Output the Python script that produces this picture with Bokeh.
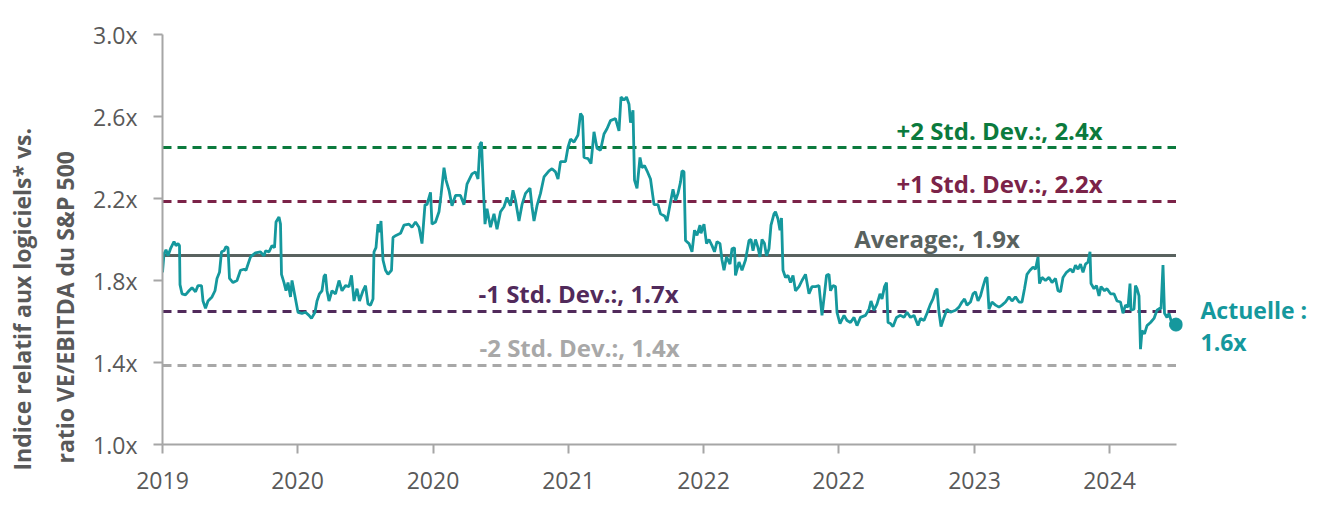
from bokeh.plotting import figure
from bokeh.models import FixedTicker, PrintfTickFormatter, Label, Range1d, LinearAxis, Title
from bokeh.embed import file_html
from bokeh.resources import INLINE

# ---- data (days since start of series, relative EV/EBITDA ratio) ----
days = [0, 3, 7, 11, 16, 23, 27, 31, 34, 35, 39, 46, 53, 59, 66, 71, 78, 81, 86, 91,
        99, 105, 109, 114, 118, 123, 127, 131, 134, 141, 149, 156, 163, 167, 176, 186, 196, 203, 206, 213,
        219, 224, 227, 233, 236, 238, 243, 247, 251, 256, 259, 266, 271, 279, 286, 293, 298, 305, 309, 314,
        319, 323, 326, 329, 333, 339, 346, 353, 359, 366, 373, 378, 383, 389, 394, 401, 406, 411, 416, 421,
        423, 427, 431, 434, 437, 441, 446, 451, 458, 461, 467, 476, 483, 493, 499, 506, 513, 519, 525, 529,
        536, 539, 546, 553, 557, 563, 567, 573, 579, 586, 596, 603, 609, 619, 626, 631, 635, 638, 641, 645,
        649, 656, 663, 669, 676, 683, 689, 696, 701, 706, 713, 719, 726, 735, 739, 743, 749, 756, 763, 773,
        779, 786, 791, 796, 806, 811, 816, 823, 831, 836, 840, 843, 851, 857, 863, 869, 876, 883, 889, 896,
        906, 913, 917, 923, 928, 933, 936, 941, 944, 949, 955, 959, 964, 969, 976, 983, 991, 996, 1004, 1009,
        1015, 1021, 1026, 1031, 1036, 1039, 1043, 1046, 1053, 1059, 1064, 1069, 1075, 1077, 1083, 1088, 1093, 1099, 1104, 1109,
        1115, 1119, 1123, 1128, 1135, 1139, 1144, 1146, 1153, 1159, 1166, 1173, 1177, 1181, 1186, 1191, 1195, 1199, 1204, 1208,
        1213, 1217, 1223, 1226, 1231, 1235, 1238, 1241, 1246, 1251, 1256, 1261, 1266, 1273, 1279, 1286, 1293, 1299, 1306, 1313,
        1319, 1324, 1328, 1333, 1336, 1341, 1346, 1349, 1355, 1363, 1369, 1376, 1383, 1389, 1396, 1406, 1413, 1417, 1423, 1429,
        1435, 1439, 1444, 1448, 1451, 1456, 1461, 1468, 1476, 1483, 1489, 1496, 1503, 1511, 1516, 1523, 1529, 1536, 1541, 1546,
        1549, 1553, 1557, 1563, 1569, 1576, 1586, 1593, 1599, 1604, 1609, 1616, 1621, 1626, 1631, 1636, 1641, 1646, 1649, 1653,
        1659, 1666, 1673, 1679, 1686, 1693, 1699, 1706, 1713, 1719, 1724, 1729, 1735, 1741, 1746, 1751, 1754, 1759, 1766, 1773,
        1779, 1786, 1791, 1796, 1801, 1808, 1816, 1821, 1826, 1831, 1836, 1841, 1846, 1851, 1855, 1857, 1863, 1868, 1873, 1877,
        1884, 1889, 1896, 1903, 1909, 1916, 1921, 1926, 1931, 1935, 1937, 1943, 1946, 1949, 1953, 1956, 1959, 1964, 1969, 1976,
        1983, 1989, 1995, 1997, 2001, 2004, 2009, 2013, 2017, 2023, 2027]

ratio = [1.84, 1.93, 1.95, 1.92, 1.955, 1.99, 1.97, 1.98, 1.97, 1.78, 1.735, 1.73, 1.75, 1.765, 1.745, 1.775, 1.775, 1.70, 1.665, 1.70,
         1.72, 1.75, 1.81, 1.84, 1.94, 1.945, 1.965, 1.96, 1.81, 1.79, 1.80, 1.85, 1.855, 1.85, 1.915, 1.935, 1.94, 1.92, 1.945, 1.94,
         1.97, 1.96, 2.085, 2.11, 2.075, 1.83, 1.79, 1.75, 1.79, 1.72, 1.80, 1.71, 1.645, 1.64, 1.645, 1.63, 1.615, 1.645, 1.70, 1.735,
         1.75, 1.82, 1.83, 1.75, 1.70, 1.75, 1.735, 1.80, 1.75, 1.775, 1.77, 1.825, 1.70, 1.76, 1.70, 1.75, 1.775, 1.685, 1.68, 1.71,
         1.94, 1.96, 2.075, 2.035, 2.09, 1.90, 1.85, 1.83, 1.85, 2.01, 2.02, 2.03, 2.07, 2.075, 2.06, 2.085, 2.06, 1.98, 2.17, 2.17,
         2.23, 2.075, 2.085, 2.135, 2.215, 2.35, 2.29, 2.24, 2.165, 2.215, 2.215, 2.17, 2.27, 2.32, 2.33, 2.295, 2.465, 2.475, 2.29, 2.075,
         2.15, 2.06, 2.125, 2.05, 2.135, 2.16, 2.205, 2.165, 2.24, 2.19, 2.09, 2.17, 2.225, 2.25, 2.16, 2.09, 2.165, 2.225, 2.305, 2.335,
         2.345, 2.33, 2.295, 2.38, 2.38, 2.45, 2.49, 2.475, 2.51, 2.615, 2.60, 2.40, 2.395, 2.37, 2.525, 2.445, 2.435, 2.515, 2.54, 2.58,
         2.59, 2.53, 2.695, 2.68, 2.695, 2.66, 2.57, 2.63, 2.29, 2.25, 2.40, 2.35, 2.36, 2.335, 2.295, 2.17, 2.17, 2.125, 2.115, 2.09,
         2.17, 2.245, 2.19, 2.225, 2.28, 2.335, 2.33, 1.995, 1.98, 1.94, 2.045, 2.02, 2.07, 2.03, 2.075, 1.98, 2.00, 1.97, 1.94, 1.99,
         1.98, 1.90, 1.85, 1.915, 1.88, 1.955, 1.96, 1.825, 1.89, 1.85, 1.90, 1.995, 2.00, 1.945, 2.00, 1.96, 1.915, 2.00, 1.98, 1.92,
         1.955, 2.07, 2.125, 2.135, 2.10, 2.045, 2.105, 1.85, 1.815, 1.825, 1.79, 1.825, 1.75, 1.77, 1.80, 1.83, 1.735, 1.77, 1.77, 1.775,
         1.63, 1.735, 1.825, 1.83, 1.75, 1.775, 1.77, 1.645, 1.59, 1.63, 1.605, 1.595, 1.62, 1.58, 1.62, 1.63, 1.66, 1.70, 1.655, 1.685,
         1.735, 1.71, 1.77, 1.79, 1.595, 1.59, 1.575, 1.62, 1.63, 1.62, 1.645, 1.62, 1.63, 1.58, 1.615, 1.605, 1.64, 1.685, 1.71, 1.75,
         1.76, 1.645, 1.575, 1.62, 1.66, 1.645, 1.655, 1.67, 1.695, 1.71, 1.68, 1.695, 1.735, 1.745, 1.70, 1.725, 1.77, 1.81, 1.815, 1.66,
         1.695, 1.68, 1.67, 1.68, 1.695, 1.72, 1.70, 1.72, 1.695, 1.695, 1.76, 1.83, 1.85, 1.865, 1.855, 1.915, 1.785, 1.815, 1.80, 1.815,
         1.79, 1.81, 1.75, 1.745, 1.815, 1.84, 1.855, 1.84, 1.875, 1.855, 1.88, 1.84, 1.88, 1.89, 1.94, 1.785, 1.76, 1.775, 1.725, 1.77,
         1.75, 1.76, 1.735, 1.735, 1.70, 1.695, 1.64, 1.68, 1.67, 1.785, 1.655, 1.66, 1.775, 1.76, 1.725, 1.465, 1.555, 1.54, 1.58, 1.595,
         1.615, 1.655, 1.665, 1.66, 1.875, 1.64, 1.62, 1.64, 1.605, 1.58, 1.585]

x_ticks = [0, 270, 541, 812, 1082, 1352, 1624, 1894]
x_tick_labels = ["2019", "2020", "2020", "2021", "2022", "2022", "2023", "2024"]
y_ticks = [1.0, 1.4, 1.8, 2.2, 2.6, 3.0]

level_values = [2.449, 2.185, 1.922, 1.649, 1.385]
level_texts = ["+2 Std. Dev.:, 2.4x", "+1 Std. Dev.:, 2.2x", "Average:, 1.9x",
               "-1 Std. Dev.:, 1.7x", "-2 Std. Dev.:, 1.4x"]
level_colors = ["#0b7a3d", "#7b2348", "#59625f", "#512a5b", "#a8a8a8"]
level_dash = ["9 6", "9 6", "solid", "9 6", "9 6"]
level_label_x = [1674, 1674, 1549, 832, 834]
level_label_y = [2.533, 2.273, 2.004, 1.736, 1.471]

current_text = ["Actuelle :", "1.6x"]
current_label_y = [1.655, 1.50]

y_title = ["Indice relatif aux logiciels* vs.", "ratio VE/EBITDA du S&P 500"]
y_title_offset = [-26, -19]
y_title_standoff = [0, 19]

TEAL = "#15989d"
FONT = "Open Sans"
GREY = "#595959"

p = figure(width=1316, height=510, output_backend="svg", toolbar_location=None,
           x_range=Range1d(0, 2040), y_range=Range1d(1.0, 3.0),
           min_border_left=162, min_border_right=134, min_border_top=34, min_border_bottom=66)
p.outline_line_color = None
p.grid.grid_line_color = None
p.background_fill_color = "white"
p.border_fill_color = "white"

# reference lines
for lv, col, dash in zip(level_values, level_colors, level_dash):
    p.line(x=[days[0], days[-1]], y=[lv, lv], line_color=col, line_width=3, line_dash=dash)

# series
p.line(x=days, y=ratio, line_color=TEAL, line_width=2.8)
p.scatter(x=[days[-1]], y=[ratio[-1]], size=13, color=TEAL)

# level labels
for txt, col, lx, ly in zip(level_texts, level_colors, level_label_x, level_label_y):
    p.add_layout(Label(x=lx, y=ly, text=txt, text_color=col, text_font=FONT,
                       text_font_style="bold", text_font_size="24px",
                       text_align="center", text_baseline="alphabetic"))

AX = "#a6a6a6"
xa = p.xaxis[0]
xa.ticker = FixedTicker(ticks=x_ticks)
xa.major_label_overrides = {t: l for t, l in zip(x_ticks, x_tick_labels)}
xa.bounds = (0, 2028)
ya = p.yaxis[0]
ya.ticker = FixedTicker(ticks=y_ticks)
ya.formatter = PrintfTickFormatter(format="%.1fx")

for ax in (xa, ya):
    ax.axis_line_color = AX
    ax.axis_line_width = 2
    ax.major_tick_line_color = AX
    ax.major_tick_line_width = 2
    ax.major_tick_in = 0
    ax.major_tick_out = 9
    ax.minor_tick_line_color = None
    ax.major_label_text_font = FONT
    ax.major_label_text_font_size = "23px"
    ax.major_label_text_color = GREY
xa.major_label_standoff = 18
ya.major_label_standoff = 16

# right-hand annotation of the current value, as a label-only axis
ra = LinearAxis(ticker=FixedTicker(ticks=current_label_y),
                major_label_overrides={v: t for v, t in zip(current_label_y, current_text)})
ra.axis_line_color = None
ra.major_tick_line_color = None
ra.minor_tick_line_color = None
ra.major_tick_out = 0
ra.major_tick_in = 0
ra.major_label_standoff = 18
ra.major_label_text_font = FONT
ra.major_label_text_font_style = "bold"
ra.major_label_text_font_size = "23px"
ra.major_label_text_color = TEAL
p.add_layout(ra, "right")

# y title (two lines), the line nearest the axis added first
for txt, off, so in reversed(list(zip(y_title, y_title_offset, y_title_standoff))):
    t = Title(text=txt, align="left", offset=off, standoff=so,
              text_font=FONT, text_font_style="bold", text_font_size="23px",
              text_color=GREY)
    p.add_layout(t, "left")

open("out.html", "w").write(file_html(p, INLINE))
